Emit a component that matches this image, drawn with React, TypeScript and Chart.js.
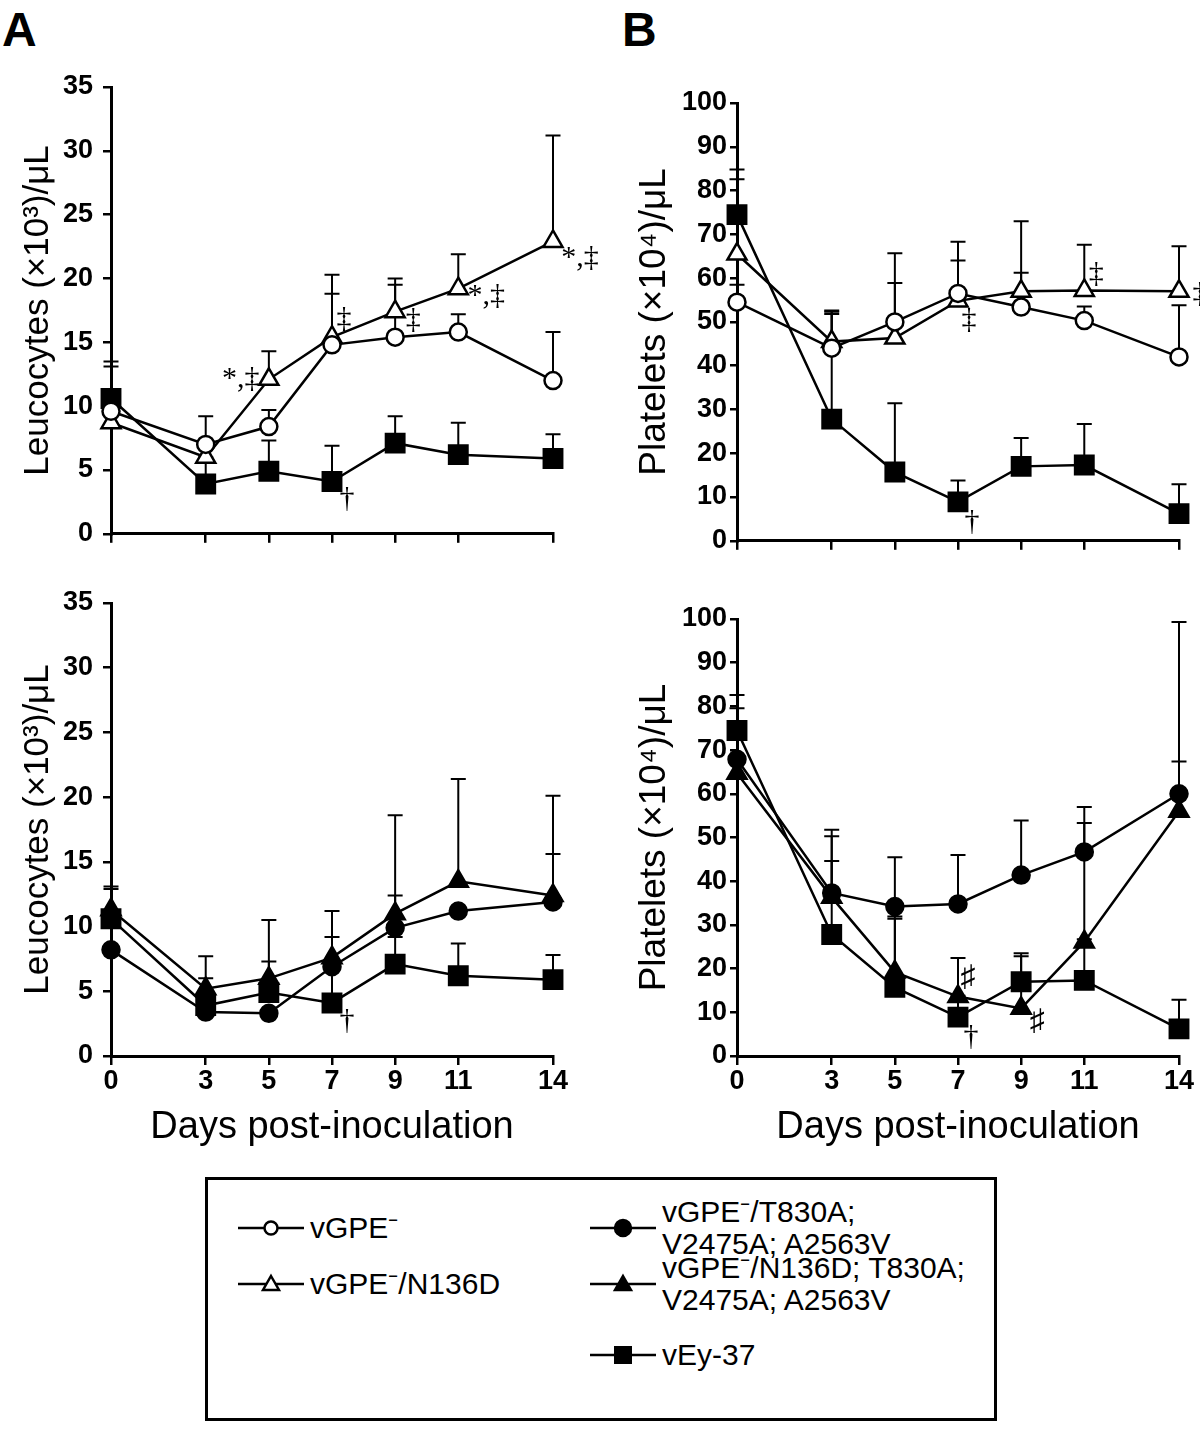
import React, { useEffect, useRef } from 'react';
import { Chart, registerables } from 'chart.js';

Chart.register(...registerables);

// ---------- DATA ----------
const DAYS = [0, 3, 5, 7, 9, 11, 14];
const LEUCO_TICKS = [0, 5, 10, 15, 20, 25, 30, 35];
const PLATELET_TICKS = [0, 10, 20, 30, 40, 50, 60, 70, 80, 90, 100];

const LABEL_VGPE = 'vGPE⁻';
const LABEL_N136D = 'vGPE⁻/N136D';
const LABEL_T830A = 'vGPE⁻/T830A; V2475A; A2563V';
const LABEL_N136D_T830A = 'vGPE⁻/N136D; T830A; V2475A; A2563V';
const LABEL_VEY37 = 'vEy-37';

// Leucocytes (x10^3/uL)
const leuVGPE = [9.6, 7.0, 8.4, 14.8, 15.4, 15.8, 12.0];
const leuVGPEErr = [13.5, 9.2, 9.7, 18.8, 19.5, 17.2, 15.8];
const leuN136D = [8.7, 6.0, 12.1, 15.4, 17.4, 19.2, 22.9];
const leuN136DErr = [null, null, 14.3, 20.3, 20.0, 21.9, 31.2];
const leuVEy37 = [10.6, 3.9, 4.9, 4.1, 7.1, 6.2, 5.9];
const leuVEy37Err = [13.1, 6.0, 7.3, 6.9, 9.2, 8.7, 7.8];
const leuT830A = [8.2, 3.4, 3.3, 6.9, 9.9, 11.2, 11.9];
const leuT830AErr = [9.9, 4.5, null, 9.2, 12.4, null, 15.6];
const leuN136DT830A = [11.3, 5.2, 6.0, 7.6, 11.0, 13.5, 12.4];
const leuN136DT830AErr = [12.9, 7.7, 10.5, 11.2, 18.6, 21.4, 20.1];

// Platelets (x10^4/uL)
const pltVGPE = [54.5, 44.0, 50.0, 56.5, 53.4, 50.3, 42.0];
const pltVGPEErr = [58.5, 52.3, 65.7, 64.0, 61.2, 53.5, 53.8];
const pltN136D = [65.5, 45.5, 46.3, 54.8, 57.0, 57.2, 57.0];
const pltN136DErr = [84.8, 52.6, 58.9, 68.3, 73.0, 67.6, 67.3];
const pltVEy37 = [74.5, 27.8, 15.7, 8.9, 17.0, 17.3, 6.2];
const pltVEy37Err = [82.6, 51.8, 31.4, 13.8, 23.5, 26.7, 12.9];
const pltT830A = [67.9, 37.3, 34.2, 34.8, 41.4, 46.7, 60.0];
const pltT830AErr = [79.6, 50.3, 45.5, 46.0, 53.9, 53.3, 67.4];
const pltN136DT830A = [64.7, 36.3, 19.2, 13.6, 10.9, 26.1, 56.0];
const pltN136DT830AErr = [null, 44.6, 31.9, 22.4, 22.8, 57.0, 99.3];

// ---------- STYLE / LAYOUT ----------
type Marker = 'circle' | 'triangle' | 'rect';
type Series = { label: string; values: number[]; err: (number | null)[]; marker: Marker; filled: boolean };
type Note = { s: number; i: number; text: string; dx: number; dy: number };

const RADIUS: Record<Marker, number> = { circle: 8.5, triangle: 11, rect: 13 };
const FONT = 'Liberation Sans, Arial, Helvetica, sans-serif';
const SERIF = 'Liberation Serif, DejaVu Serif, serif';

type Panel = {
  key: string; left: number; top: number; width: number; height: number;
  yTicks: number[]; yTitle: string; yTitleSize: number; showX: boolean; yW: number; xH: number;
  pad: { left: number; top: number; right: number; bottom: number };
  yTickPad: number; yTickLen: number; yTitlePad: number;
  series: Series[]; notes: Note[];
};

const sVGPE = (v: number[], e: (number | null)[]): Series => ({ label: LABEL_VGPE, values: v, err: e, marker: 'circle', filled: false });
const sN136D = (v: number[], e: (number | null)[]): Series => ({ label: LABEL_N136D, values: v, err: e, marker: 'triangle', filled: false });
const sVEy = (v: number[], e: (number | null)[]): Series => ({ label: LABEL_VEY37, values: v, err: e, marker: 'rect', filled: true });
const sT830A = (v: number[], e: (number | null)[]): Series => ({ label: LABEL_T830A, values: v, err: e, marker: 'circle', filled: true });
const sN136DT = (v: number[], e: (number | null)[]): Series => ({ label: LABEL_N136D_T830A, values: v, err: e, marker: 'triangle', filled: true });

const PANELS: Panel[] = [
  {
    key: 'At', left: 0, top: 60, width: 610, height: 500, yTicks: LEUCO_TICKS,
    yTitle: 'Leucocytes (×10³)/μL', yTitleSize: 35, showX: false, yW: 111, xH: 19,
    pad: { left: 0, top: 27, right: 57, bottom: 0 }, yTickPad: 10, yTickLen: 8, yTitlePad: 17,
    series: [sVGPE(leuVGPE, leuVGPEErr), sN136D(leuN136D, leuN136DErr), sVEy(leuVEy37, leuVEy37Err)],
    notes: [
      { s: 1, i: 2, text: '*,‡', dx: -28, dy: 0 },
      { s: 1, i: 3, text: '‡', dx: 12, dy: -18 },
      { s: 1, i: 4, text: '‡', dx: 18, dy: 8 },
      { s: 1, i: 5, text: '*,‡', dx: 28, dy: 7 },
      { s: 1, i: 6, text: '*,‡', dx: 27, dy: 17 },
      { s: 2, i: 3, text: '†', dx: 15, dy: 18 },
    ],
  },
  {
    key: 'Bt', left: 620, top: 60, width: 580, height: 500, yTicks: PLATELET_TICKS,
    yTitle: 'Platelets (×10⁴)/μL', yTitleSize: 37, showX: false, yW: 117, xH: 19,
    pad: { left: 0, top: 43, right: 21, bottom: 0 }, yTickPad: 3, yTickLen: 7, yTitlePad: 13,
    series: [sVGPE(pltVGPE, pltVGPEErr), sN136D(pltN136D, pltN136DErr), sVEy(pltVEy37, pltVEy37Err)],
    notes: [
      { s: 1, i: 3, text: '‡', dx: 11, dy: 19 },
      { s: 1, i: 5, text: '‡', dx: 12, dy: -16 },
      { s: 1, i: 6, text: '‡', dx: 21, dy: 3 },
      { s: 2, i: 3, text: '†', dx: 14, dy: 20 },
    ],
  },
  {
    key: 'Ab', left: 0, top: 575, width: 610, height: 585, yTicks: LEUCO_TICKS,
    yTitle: 'Leucocytes (×10³)/μL', yTitleSize: 35, showX: true, yW: 111, xH: 95,
    pad: { left: 0, top: 28, right: 57, bottom: 9 }, yTickPad: 10, yTickLen: 8, yTitlePad: 17,
    series: [sT830A(leuT830A, leuT830AErr), sN136DT(leuN136DT830A, leuN136DT830AErr), sVEy(leuVEy37, leuVEy37Err)],
    notes: [{ s: 2, i: 3, text: '†', dx: 15, dy: 18 }],
  },
  {
    key: 'Bb', left: 620, top: 575, width: 580, height: 585, yTicks: PLATELET_TICKS,
    yTitle: 'Platelets (×10⁴)/μL', yTitleSize: 37, showX: true, yW: 117, xH: 95,
    pad: { left: 0, top: 44, right: 21, bottom: 9 }, yTickPad: 3, yTickLen: 7, yTitlePad: 13,
    series: [sT830A(pltT830A, pltT830AErr), sN136DT(pltN136DT830A, pltN136DT830AErr), sVEy(pltVEy37, pltVEy37Err)],
    notes: [
      { s: 1, i: 3, text: '♯', dx: 10, dy: -18 },
      { s: 1, i: 4, text: '♯', dx: 16, dy: 14 },
      { s: 2, i: 3, text: '†', dx: 13, dy: 20 },
    ],
  },
];

// ---------- PLUGINS ----------
const errorBarPlugin = {
  id: 'errbars',
  beforeDatasetsDraw(chart: any) {
    const ctx = chart.ctx;
    const y = chart.scales.y;
    chart.data.datasets.forEach((ds: any, di: number) => {
      const meta = chart.getDatasetMeta(di);
      (ds.errUp || []).forEach((e: number | null, i: number) => {
        if (e == null) return;
        const pt = meta.data[i];
        const yt = y.getPixelForValue(e);
        ctx.save();
        ctx.strokeStyle = '#000';
        ctx.lineWidth = 2;
        ctx.beginPath();
        ctx.moveTo(pt.x, pt.y);
        ctx.lineTo(pt.x, yt);
        ctx.moveTo(pt.x - 7.5, yt);
        ctx.lineTo(pt.x + 7.5, yt);
        ctx.stroke();
        ctx.restore();
      });
    });
  },
};

const notesPlugin = {
  id: 'notes',
  afterDatasetsDraw(chart: any, _args: any, opts: any) {
    const ctx = chart.ctx;
    (opts.items || []).forEach((n: Note) => {
      const pt = chart.getDatasetMeta(n.s).data[n.i];
      ctx.save();
      ctx.fillStyle = '#000';
      ctx.font = `30px ${SERIF}`;
      ctx.textAlign = 'center';
      ctx.textBaseline = 'middle';
      ctx.fillText(n.text, pt.x + n.dx, pt.y + n.dy);
      ctx.restore();
    });
  },
};

function buildConfig(p: Panel): any {
  const xTitleSize = 38;
  return {
    type: 'line',
    data: {
      datasets: p.series.map((s) => ({
        label: s.label,
        data: DAYS.map((d, i) => ({ x: d, y: s.values[i] })),
        errUp: s.err,
        borderColor: '#000',
        borderWidth: 2.5,
        pointStyle: s.marker,
        pointRadius: RADIUS[s.marker],
        pointBorderWidth: 2.5,
        pointBackgroundColor: s.filled ? '#000' : '#fff',
        pointBorderColor: '#000',
        tension: 0,
        fill: false,
        clip: false,
      })),
    },
    options: {
      animation: false,
      responsive: false,
      maintainAspectRatio: false,
      events: [],
      layout: { padding: p.pad },
      plugins: {
        legend: { display: false },
        tooltip: { enabled: false },
        notes: { items: p.notes },
      },
      scales: {
        x: {
          type: 'linear',
          min: 0,
          max: 14,
          afterBuildTicks: (sc: any) => { sc.ticks = DAYS.map((v) => ({ value: v })); },
          afterFit: (sc: any) => { sc.height = p.xH; },
          ticks: {
            display: p.showX, color: '#000', padding: 0, autoSkip: false, maxRotation: 0,
            font: { family: FONT, size: 27, weight: 'bold' },
          },
          grid: { drawOnChartArea: false, drawTicks: true, tickLength: 9, color: '#000', lineWidth: 2.5 },
          border: { display: true, color: '#000', width: 3 },
          title: {
            display: p.showX, text: 'Days post-inoculation', color: '#000',
            font: { family: FONT, size: xTitleSize, weight: 'normal' }, padding: { top: 0, bottom: 1 },
          },
        },
        y: {
          type: 'linear',
          min: 0,
          max: p.yTicks[p.yTicks.length - 1],
          afterBuildTicks: (sc: any) => { sc.ticks = p.yTicks.map((v) => ({ value: v })); },
          afterFit: (sc: any) => { sc.width = p.yW; },
          ticks: {
            color: '#000', padding: p.yTickPad, autoSkip: false,
            font: { family: FONT, size: 27, weight: 'bold' },
          },
          grid: { drawOnChartArea: false, drawTicks: true, tickLength: p.yTickLen, color: '#000', lineWidth: 2.5 },
          border: { display: true, color: '#000', width: 3 },
          title: {
            display: true, text: p.yTitle, color: '#000',
            font: { family: FONT, size: p.yTitleSize, weight: 'normal' }, padding: { top: p.yTitlePad, bottom: 0 },
          },
        },
      },
    },
    plugins: [errorBarPlugin, notesPlugin],
  };
}

function PanelChart({ p }: { p: Panel }) {
  const ref = useRef<HTMLCanvasElement | null>(null);
  useEffect(() => {
    if (!ref.current) return;
    const chart = new Chart(ref.current, buildConfig(p));
    return () => chart.destroy();
  }, [p]);
  return (
    <canvas
      ref={ref}
      width={p.width}
      height={p.height}
      style={{ position: 'absolute', left: p.left, top: p.top, width: p.width, height: p.height }}
    />
  );
}

function MarkerSvg({ marker, filled }: { marker: Marker; filled: boolean }) {
  const fill = filled ? '#000' : '#fff';
  const cx = 33, cy = 15;
  let shape: any;
  if (marker === 'circle') shape = <circle cx={cx} cy={cy} r={filled ? 8 : 6.5} fill={fill} stroke="#000" strokeWidth={2.5} />;
  else if (marker === 'triangle') shape = <polygon points={`${cx},${cy - 8} ${cx + 8},${cy + 6} ${cx - 8},${cy + 6}`} fill={fill} stroke="#000" strokeWidth={2.5} strokeLinejoin="miter" />;
  else shape = <rect x={cx - 8} y={cy - 8} width={16} height={16} fill={fill} stroke="#000" strokeWidth={2} />;
  return (
    <svg width={66} height={30} style={{ display: 'block' }}>
      <line x1={0} y1={cy} x2={66} y2={cy} stroke="#000" strokeWidth={2.5} />
      {shape}
    </svg>
  );
}

type LegendItem = { lines: string[]; marker: Marker; filled: boolean; x: number; y: number };
const LEGEND: LegendItem[] = [
  { lines: ['vGPE⁻'], marker: 'circle', filled: false, x: 238, y: 1228 },
  { lines: ['vGPE⁻/N136D'], marker: 'triangle', filled: false, x: 238, y: 1284 },
  { lines: ['vGPE⁻/T830A;', 'V2475A; A2563V'], marker: 'circle', filled: true, x: 590, y: 1228 },
  { lines: ['vGPE⁻/N136D; T830A;', 'V2475A; A2563V'], marker: 'triangle', filled: true, x: 590, y: 1284 },
  { lines: ['vEy-37'], marker: 'rect', filled: true, x: 590, y: 1355 },
];

export default function App() {
  const lh = 32;
  return (
    <div style={{ position: 'absolute', left: 0, top: 0, width: 1200, height: 1429, background: '#fff', overflow: 'hidden', fontFamily: FONT }}>
      <div style={{ position: 'absolute', left: 2, top: 6, fontSize: 48, lineHeight: '48px', fontWeight: 'bold', color: '#000' }}>A</div>
      <div style={{ position: 'absolute', left: 622, top: 6, fontSize: 48, lineHeight: '48px', fontWeight: 'bold', color: '#000' }}>B</div>
      {PANELS.map((p) => <PanelChart key={p.key} p={p} />)}
      <div style={{ position: 'absolute', left: 205, top: 1177, width: 792, height: 244, border: '3px solid #000', boxSizing: 'border-box' }} />
      {LEGEND.map((it, k) => (
        <React.Fragment key={k}>
          <div style={{ position: 'absolute', left: it.x, top: it.y - 15 }}>
            <MarkerSvg marker={it.marker} filled={it.filled} />
          </div>
          <div style={{ position: 'absolute', left: it.x + 72, top: it.y - (it.lines.length * lh) / 2, fontSize: 30, lineHeight: `${lh}px`, color: '#000', whiteSpace: 'nowrap' }}>
            {it.lines.map((l, j) => <div key={j}>{l}</div>)}
          </div>
        </React.Fragment>
      ))}
    </div>
  );
}
